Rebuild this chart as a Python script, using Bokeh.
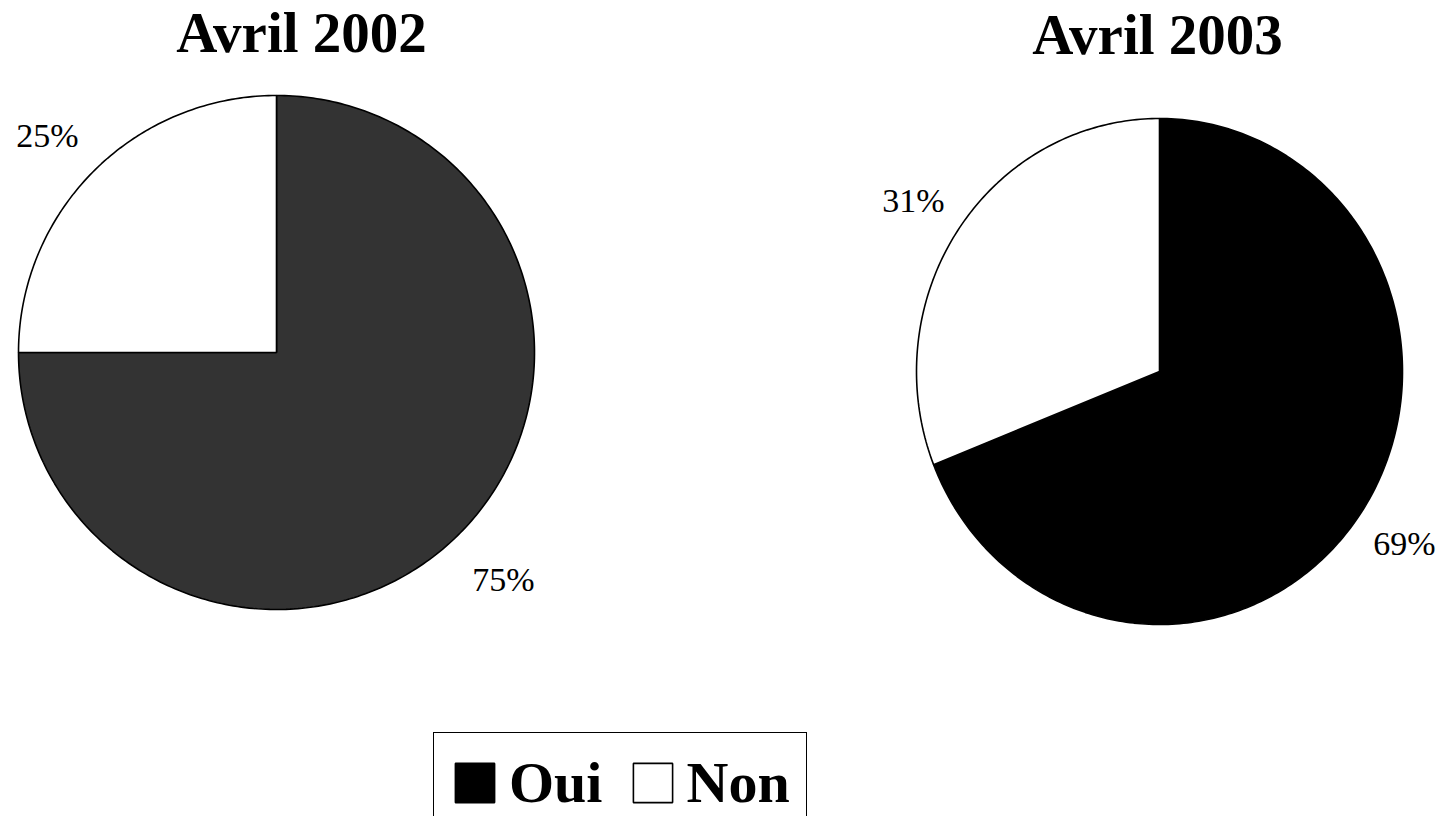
import numpy as np
from bokeh.plotting import figure
from bokeh.models import Range1d, ColumnDataSource, Legend, LegendItem
from bokeh.core.properties import value
from bokeh.embed import file_html
from bokeh.resources import INLINE

# ---- data ----
years = ["Avril 2002", "Avril 2003"]
categories = ["Oui", "Non"]
oui = [75, 69]
non = [25, 31]

# ---- styles / layout ----
W, H = 1443, 816
oui_colors = ["#333333", "#000000"]
non_color = "#ffffff"
centers = [(276, 352), (1159, 371)]
radii = [(258, 257), (243, 253)]
title_pos = [(301, 32), (1157, 34)]
label_pos = [[(503, 579), (47, 135)], [(1404, 543), (913, 200)]]
SERIF = "Liberation Serif"

p = figure(width=W, height=H, output_backend="svg", toolbar_location=None,
           x_range=Range1d(0, W), y_range=Range1d(H, 0),
           x_axis_type=None, y_axis_type=None, min_border=0,
           outline_line_color=None, background_fill_color="white",
           border_fill_color="white")
p.grid.visible = False


def slices(vals, cx, cy, rx, ry):
    total = float(sum(vals))
    xs, ys = [], []
    start = 0.0
    for v in vals:
        end = start + 2 * np.pi * v / total
        n = max(int(400 * v / total), 8)
        t = np.linspace(start, end, n)
        x = np.concatenate([[cx], cx + rx * np.sin(t), [cx]])
        y = np.concatenate([[cy], cy - ry * np.cos(t), [cy]])
        xs.append(list(x))
        ys.append(list(y))
        start = end
    return xs, ys


renderers = []
for i in range(2):
    vals = [oui[i], non[i]]
    xs, ys = slices(vals, centers[i][0], centers[i][1], radii[i][0], radii[i][1])
    src = ColumnDataSource(dict(xs=xs, ys=ys, cat=categories,
                                color=[oui_colors[i], non_color]))
    r = p.patches("xs", "ys", source=src, fill_color="color",
                  line_color="black", line_width=1.6)
    renderers.append(r)

    # title
    p.text(x=[title_pos[i][0]], y=[title_pos[i][1]], text=[years[i]],
           text_font=value(SERIF), text_font_style="bold",
           text_font_size="57px", text_align="center",
           text_baseline="alphabetic", text_color="black")
    # percentage labels
    for (lx, ly), v in zip(label_pos[i], vals):
        p.text(x=[lx], y=[ly], text=[f"{v}%"], text_font=value(SERIF),
               text_font_size="34px", text_align="center",
               text_baseline="alphabetic", text_color="black")

legend = Legend(items=[LegendItem(label=categories[0], renderers=[renderers[1]], index=0),
                       LegendItem(label=categories[1], renderers=[renderers[1]], index=1)],
                orientation="horizontal", location=(433, -17),
                label_text_font=SERIF, label_text_font_style="bold",
                label_text_font_size="58px", label_text_color="black",
                glyph_width=49, glyph_height=49,
                padding=16, spacing=25, label_standoff=10,
                border_line_color="black", border_line_width=1.5,
                border_line_alpha=1.0,
                background_fill_color="white", background_fill_alpha=1.0,
                margin=0)
p.add_layout(legend)

open("out.html", "w").write(file_html(p, INLINE))
